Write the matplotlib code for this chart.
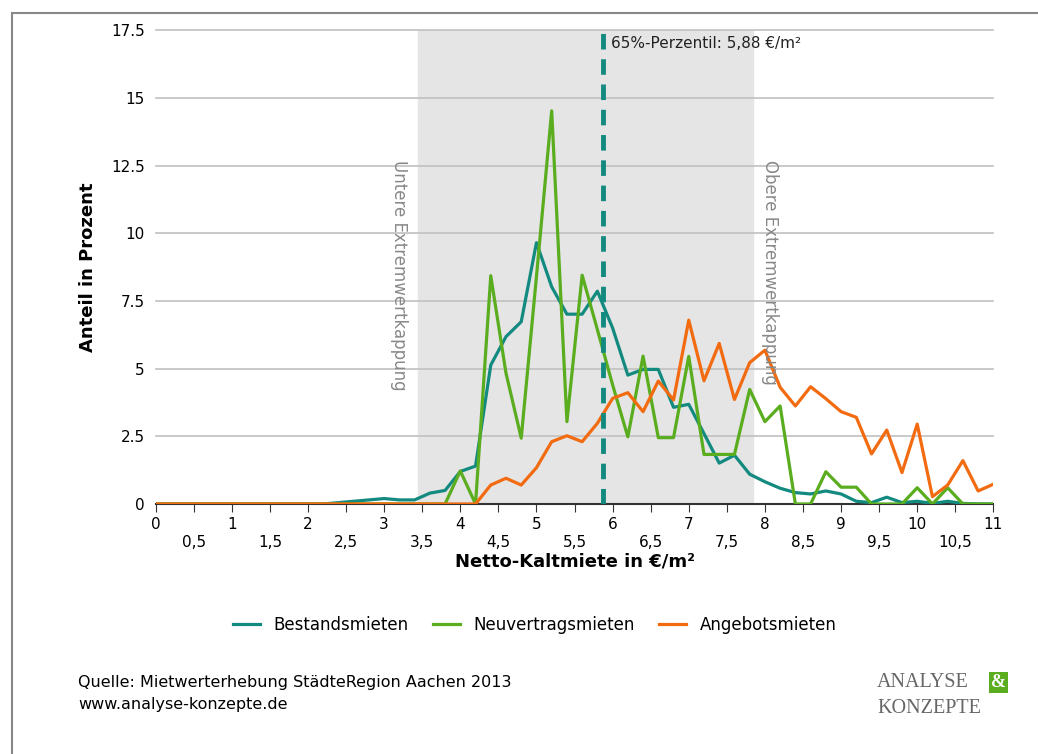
import numpy as np
import matplotlib
matplotlib.use("Agg")
import matplotlib.pyplot as plt
from matplotlib.patches import Rectangle

x = [round(i * 0.2, 1) for i in range(56)]
bestand = [0]*11 + [0, 0.05, 0.1, 0.15, 0.2, 0.15, 0.15, 0.4, 0.5, 1.2, 1.4,
           5.13, 6.18, 6.73, 9.65, 8.02, 7.01, 7.01, 7.86, 6.5, 4.76, 4.97, 4.97, 3.57, 3.68,
           2.6, 1.51, 1.8, 1.1, 0.82, 0.58, 0.42, 0.37, 0.48, 0.37, 0.1, 0.05, 0.25, 0.05,
           0.1, 0.02, 0.1, 0.02, 0, 0]
neu = [0]*20 + [1.22, 0, 8.43, 4.83, 2.43, 8.4, 14.52, 3.04, 8.45, 6.44, 4.4, 2.48, 5.46,
                2.45, 2.45, 5.45, 1.83, 1.83, 1.83, 4.23, 3.04, 3.62, 0, 0, 1.19, 0.62, 0.62,
                0, 0, 0, 0.6, 0, 0.6, 0, 0, 0]
angebot = [0]*21 + [0, 0.7, 0.95, 0.7, 1.34, 2.3, 2.52, 2.3, 2.98, 3.9, 4.11, 3.41, 4.54,
                    3.84, 6.79, 4.55, 5.93, 3.86, 5.22, 5.68, 4.31, 3.62, 4.33, 3.89, 3.41,
                    3.2, 1.85, 2.73, 1.16, 2.95, 0.27, 0.7, 1.6, 0.48, 0.73]
perzentil = 5.88
band = (3.44, 7.85)

fig = plt.figure(figsize=(10.38, 7.54), dpi=100)
fig.patches.append(Rectangle((0.012, -0.1), 1.1, 1.083, transform=fig.transFigure,
                             fill=False, edgecolor="#888888", lw=1.5))
ax = fig.add_axes([0.150, 0.3316, 0.807, 0.6284])
ax.axvspan(*band, color="#e5e5e5", zorder=0)
for v in np.arange(2.5, 17.6, 2.5):
    ax.axhline(v, color="#c0c0c0", lw=1.2, zorder=1, clip_on=False)
ax.plot(x, bestand, color="#138a80", lw=2.3, label="Bestandsmieten", zorder=3)
ax.plot(x, neu, color="#5aad1e", lw=2.3, label="Neuvertragsmieten", zorder=3)
ax.plot(x, angebot, color="#f26b10", lw=2.3, label="Angebotsmieten", zorder=3)
ax.axvline(perzentil, color="#138a80", lw=3.5, ls=(0, (3.2, 2)), zorder=4)
ax.text(perzentil + 0.1, 17.0, "65%-Perzentil: 5,88 €/m²", fontsize=11, va="center", color="#222222")
ax.text(3.2, 12.7, "Untere Extremwertkappung", rotation=270, fontsize=12, color="#888888", va="top", ha="center")
ax.text(8.07, 12.7, "Obere Extremwertkappung", rotation=270, fontsize=12, color="#888888", va="top", ha="center")

ax.set_xlim(0, 11)
ax.set_ylim(0, 17.5)
ax.set_yticks(np.arange(0, 17.6, 2.5))
ax.set_yticklabels(["0", "2.5", "5", "7.5", "10", "12.5", "15", "17.5"], fontsize=11)
ax.set_xticks(np.arange(0, 11.1, 0.5))
ax.set_xticklabels([str(int(t)) if t == int(t) else "\n" + ("%.1f" % t).replace(".", ",")
                    for t in np.arange(0, 11.1, 0.5)], fontsize=11)
ax.tick_params(axis="x", length=6, color="#333333")
ax.tick_params(axis="y", length=0, pad=8)
for s in ["top", "right", "left"]:
    ax.spines[s].set_visible(False)
ax.spines["bottom"].set_color("#333333")
ax.spines["bottom"].set_linewidth(1.5)
ax.set_xlabel("Netto-Kaltmiete in €/m²", fontsize=13, fontweight="bold", labelpad=2)
ax.set_ylabel("Anteil in Prozent", fontsize=13, fontweight="bold", labelpad=10)

fig.legend(*ax.get_legend_handles_labels(), loc="center", bbox_to_anchor=(0.515, 0.171),
           ncol=3, frameon=False, fontsize=12, handlelength=1.6, columnspacing=1.5)
fig.text(0.075, 0.08, "Quelle: Mietwerterhebung StädteRegion Aachen 2013\nwww.analyse-konzepte.de",
         fontsize=11.5, va="center", linespacing=1.6)
fig.text(0.845, 0.095, "ANALYSE", family="Liberation Serif", fontsize=14.5, color="#666666", va="center")
fig.text(0.955, 0.095, "&", family="Liberation Serif", fontsize=13, color="white", va="center",
         fontweight="bold", bbox=dict(boxstyle="square,pad=0.1", fc="#5aad1e", ec="none"))
fig.text(0.845, 0.06, "KONZEPTE", family="Liberation Serif", fontsize=14.5, color="#666666", va="center")
fig.savefig("out.png", dpi=100)
